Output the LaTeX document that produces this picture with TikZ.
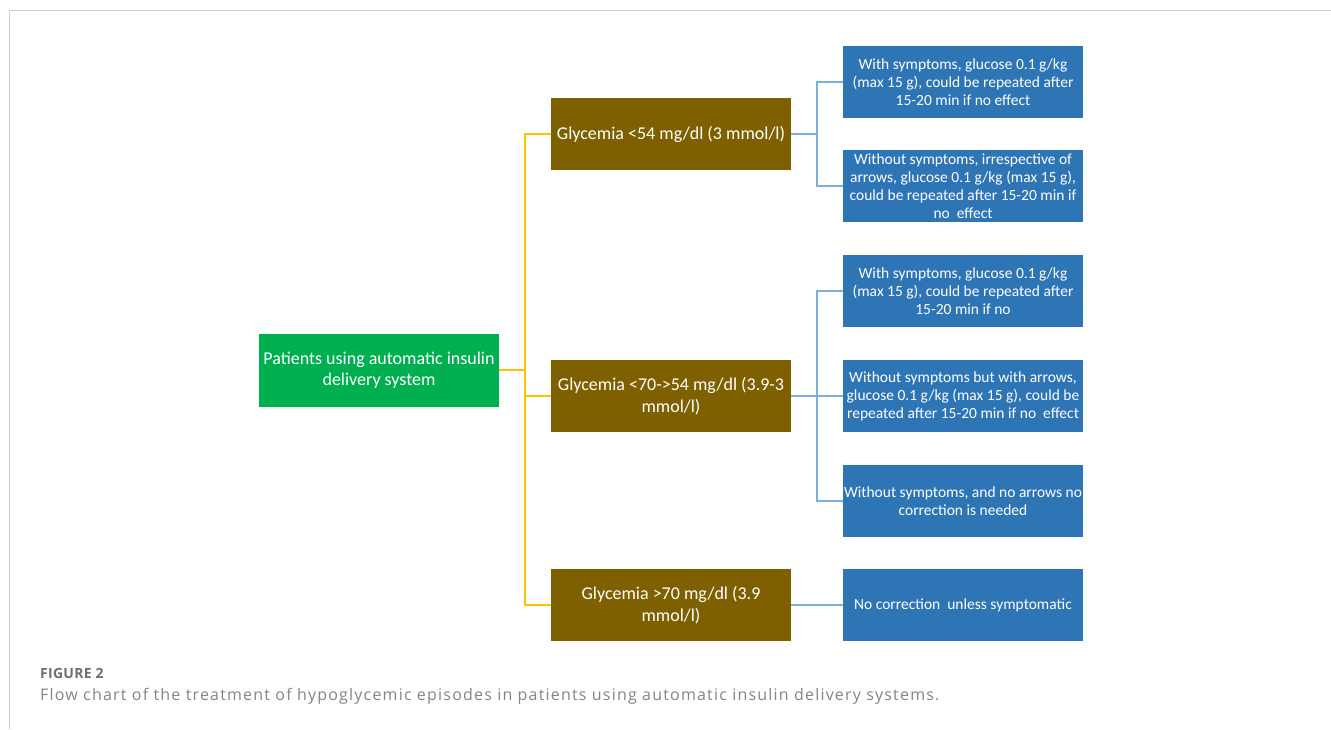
\documentclass[tikz,border=0pt]{standalone}
\usepackage{fontspec}
\setmainfont{Carlito}
\newfontfamily\capfont[LetterSpace=7.5]{Open Sans}
\newfontfamily\caplabelfont[LetterSpace=2]{Open Sans}

\definecolor{patGreen}{HTML}{00B050}
\definecolor{levelBrown}{HTML}{7F6000}
\definecolor{actionBlue}{HTML}{2E75B6}
\definecolor{trunkYellow}{HTML}{FFC000}
\definecolor{branchBlue}{HTML}{7EAEDF}
\definecolor{frameGray}{HTML}{CFCFCF}
\definecolor{capGray}{HTML}{6E6E6E}

\begin{document}
\begin{tikzpicture}
	[x=1pt, y=-1pt,
	startBox/.style={rectangle, fill=patGreen, text=white, inner sep=0pt, minimum width=240pt, minimum height=73pt, align=center, font=\fontsize{18}{21.5}\selectfont},
	levelBox/.style={rectangle, fill=levelBrown, text=white, inner sep=0pt, minimum width=240pt, minimum height=72pt, align=center, font=\fontsize{18}{21.5}\selectfont},
	actionBox/.style={rectangle, fill=actionBlue, text=white, inner sep=0pt, minimum width=240pt, minimum height=72pt, align=center, font=\fontsize{15.5}{18}\selectfont},
	trunk/.style={draw=trunkYellow, line width=1.3pt},
	branch/.style={draw=branchBlue, line width=1.3pt},
	capLabel/.style={anchor=base west, inner sep=0pt, text=capGray, font=\caplabelfont\bfseries\fontsize{14}{16}\selectfont},
	capText/.style={anchor=base west, inner sep=0pt, text=capGray!85, font=\capfont\fontsize{16}{20}\selectfont}]
	
	\useasboundingbox (0,0) rectangle (1331,729);
	\draw[frameGray, line width=1pt] (1331,10) -- (9,10) -- (9,729);
	
	% start and glycemia levels
	\node (pat) at ( 379,370 ) [startBox] {Patients using automatic insulin\\delivery system};
	\node (low) at ( 671,134 ) [levelBox] {Glycemia <54 mg/dl (3 mmol/l)};
	\node (mid) at ( 671,396 ) [levelBox] {Glycemia <70->54 mg/dl (3.9-3\\mmol/l)};
	\node (high) at ( 671,605 ) [levelBox] {Glycemia >70 mg/dl (3.9\\mmol/l)};
	
	% actions for <54
	\node (lowA) at ( 963,82 ) [actionBox] {With symptoms, glucose 0.1 g/kg\\(max 15 g), could be repeated after\\15-20 min if no effect};
	\node (lowB) at ( 963,186 ) [actionBox] {Without symptoms, irrespective of\\arrows, glucose 0.1 g/kg (max 15 g),\\could be repeated after 15-20 min if\\no\ \ effect};
	
	% actions for <70->54
	\node (midA) at ( 963,291 ) [actionBox] {With symptoms, glucose 0.1 g/kg\\(max 15 g), could be repeated after\\15-20 min if no};
	\node (midB) at ( 963,396 ) [actionBox] {Without symptoms but with arrows,\\glucose 0.1 g/kg (max 15 g), could be\\repeated after 15-20 min if no\ \ effect};
	\node (midC) at ( 963,501 ) [actionBox] {Without symptoms, and no arrows no\\correction is needed};
	
	% action for >70
	\node (highA) at ( 963,605 ) [actionBox] {No correction\ \ unless symptomatic};
	
	\coordinate (fork) at ( 525,370 );
	\coordinate (lowFork) at ( 817,134 );
	\coordinate (midFork) at ( 817,396 );
	
	\draw [trunk] (pat.east) -- (fork) |- (low.west);
	\draw [trunk] (fork) |- (mid.west);
	\draw [trunk] (fork) |- (high.west);
	
	\draw [branch] (low.east) -- (lowFork) |- (lowA.west);
	\draw [branch] (lowFork) |- (lowB.west);
	\draw [branch] (mid.east) -- (midFork) |- (midA.west);
	\draw [branch] (midFork) -- (midB.west);
	\draw [branch] (midFork) |- (midC.west);
	\draw [branch] (high.east) -- (highA.west);
	
	% caption
	\node (figLabel) at ( 40,678 ) [capLabel] {FIGURE 2};
	\node (figText) at ( 40,700 ) [capText] {Flow chart of the treatment of hypoglycemic episodes in patients using automatic insulin delivery systems.};

\end{tikzpicture}
\end{document}
